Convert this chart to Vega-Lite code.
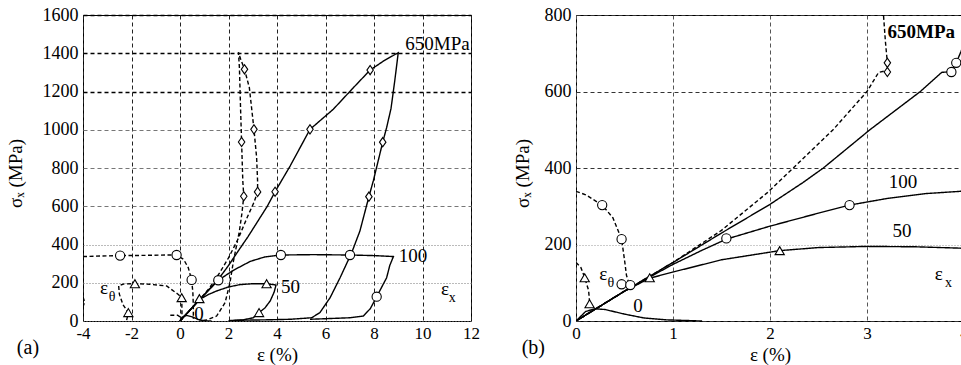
{
  "$schema": "https://vega.github.io/schema/vega-lite/v6.json",
  "background": "white",
  "padding": {"left": 5, "top": 5, "right": 0, "bottom": 0},
  "spacing": 32,
  "config": {
    "font": "Liberation Serif",
    "view": {"stroke": "black", "strokeWidth": 1},
    "axis": {"labelFont": "Liberation Serif", "labelFontSize": 18, "labelColor": "black", "titleFont": "Liberation Serif", "titleFontSize": 19, "titleFontWeight": "normal", "titleColor": "black", "ticks": false, "domain": false, "labelPadding": 5, "labelFlush": false, "labelOverlap": false, "gridDash": [4, 3]},
    "text": {"font": "Liberation Serif", "fontSize": 19, "color": "black", "align": "center", "baseline": "middle"}
  },
  "datasets": {
    "a_lines": [
      {"curve": "650x", "strain": "x", "i": 0, "x": 0, "y": 0},
      {"curve": "650x", "strain": "x", "i": 1, "x": 0.4, "y": 55},
      {"curve": "650x", "strain": "x", "i": 2, "x": 0.82, "y": 113},
      {"curve": "650x", "strain": "x", "i": 3, "x": 1.2, "y": 165},
      {"curve": "650x", "strain": "x", "i": 4, "x": 1.58, "y": 218},
      {"curve": "650x", "strain": "x", "i": 5, "x": 2.0, "y": 290},
      {"curve": "650x", "strain": "x", "i": 6, "x": 2.4, "y": 366},
      {"curve": "650x", "strain": "x", "i": 7, "x": 2.8, "y": 440},
      {"curve": "650x", "strain": "x", "i": 8, "x": 3.2, "y": 520},
      {"curve": "650x", "strain": "x", "i": 9, "x": 3.6, "y": 600},
      {"curve": "650x", "strain": "x", "i": 10, "x": 3.92, "y": 676},
      {"curve": "650x", "strain": "x", "i": 11, "x": 4.54, "y": 810},
      {"curve": "650x", "strain": "x", "i": 12, "x": 5.36, "y": 1002},
      {"curve": "650x", "strain": "x", "i": 13, "x": 6.32, "y": 1107},
      {"curve": "650x", "strain": "x", "i": 14, "x": 7.15, "y": 1220},
      {"curve": "650x", "strain": "x", "i": 15, "x": 7.84, "y": 1312},
      {"curve": "650x", "strain": "x", "i": 16, "x": 8.4, "y": 1360},
      {"curve": "650x", "strain": "x", "i": 17, "x": 9.0, "y": 1403},
      {"curve": "650x", "strain": "x", "i": 18, "x": 8.85, "y": 1250},
      {"curve": "650x", "strain": "x", "i": 19, "x": 8.7, "y": 1110},
      {"curve": "650x", "strain": "x", "i": 20, "x": 8.52, "y": 1011},
      {"curve": "650x", "strain": "x", "i": 21, "x": 8.36, "y": 935},
      {"curve": "650x", "strain": "x", "i": 22, "x": 7.97, "y": 732},
      {"curve": "650x", "strain": "x", "i": 23, "x": 7.79, "y": 650},
      {"curve": "650x", "strain": "x", "i": 24, "x": 7.42, "y": 471},
      {"curve": "650x", "strain": "x", "i": 25, "x": 7.08, "y": 357},
      {"curve": "650x", "strain": "x", "i": 26, "x": 6.6, "y": 226},
      {"curve": "650x", "strain": "x", "i": 27, "x": 6.19, "y": 122},
      {"curve": "650x", "strain": "x", "i": 28, "x": 5.77, "y": 44},
      {"curve": "650x", "strain": "x", "i": 29, "x": 5.43, "y": 17},
      {"curve": "650x", "strain": "x", "i": 30, "x": 4.54, "y": 9},
      {"curve": "650x", "strain": "x", "i": 31, "x": 3.5, "y": 6},
      {"curve": "650x", "strain": "x", "i": 32, "x": 2.47, "y": 4},
      {"curve": "650x", "strain": "x", "i": 33, "x": 2.0, "y": 2},

      {"curve": "650t", "strain": "theta", "i": 0, "x": 0, "y": 0},
      {"curve": "650t", "strain": "theta", "i": 1, "x": 0.4, "y": 55},
      {"curve": "650t", "strain": "theta", "i": 2, "x": 0.82, "y": 113},
      {"curve": "650t", "strain": "theta", "i": 3, "x": 1.2, "y": 170},
      {"curve": "650t", "strain": "theta", "i": 4, "x": 1.65, "y": 255},
      {"curve": "650t", "strain": "theta", "i": 5, "x": 2.0, "y": 330},
      {"curve": "650t", "strain": "theta", "i": 6, "x": 2.4, "y": 430},
      {"curve": "650t", "strain": "theta", "i": 7, "x": 2.8, "y": 550},
      {"curve": "650t", "strain": "theta", "i": 8, "x": 3.05, "y": 620},
      {"curve": "650t", "strain": "theta", "i": 9, "x": 3.2, "y": 675},
      {"curve": "650t", "strain": "theta", "i": 10, "x": 3.2, "y": 730},
      {"curve": "650t", "strain": "theta", "i": 11, "x": 3.16, "y": 854},
      {"curve": "650t", "strain": "theta", "i": 12, "x": 3.05, "y": 1002},
      {"curve": "650t", "strain": "theta", "i": 13, "x": 2.86, "y": 1220},
      {"curve": "650t", "strain": "theta", "i": 14, "x": 2.66, "y": 1316},
      {"curve": "650t", "strain": "theta", "i": 15, "x": 2.5, "y": 1370},
      {"curve": "650t", "strain": "theta", "i": 16, "x": 2.41, "y": 1405},
      {"curve": "650t", "strain": "theta", "i": 17, "x": 2.45, "y": 1325},
      {"curve": "650t", "strain": "theta", "i": 18, "x": 2.5, "y": 1100},
      {"curve": "650t", "strain": "theta", "i": 19, "x": 2.54, "y": 936},
      {"curve": "650t", "strain": "theta", "i": 20, "x": 2.59, "y": 732},
      {"curve": "650t", "strain": "theta", "i": 21, "x": 2.63, "y": 652},
      {"curve": "650t", "strain": "theta", "i": 22, "x": 2.55, "y": 560},
      {"curve": "650t", "strain": "theta", "i": 23, "x": 2.45, "y": 470},
      {"curve": "650t", "strain": "theta", "i": 24, "x": 2.34, "y": 400},
      {"curve": "650t", "strain": "theta", "i": 25, "x": 2.2, "y": 310},
      {"curve": "650t", "strain": "theta", "i": 26, "x": 2.06, "y": 200},
      {"curve": "650t", "strain": "theta", "i": 27, "x": 1.86, "y": 96},
      {"curve": "650t", "strain": "theta", "i": 28, "x": 1.51, "y": 26},
      {"curve": "650t", "strain": "theta", "i": 29, "x": 1.1, "y": 5},
      {"curve": "650t", "strain": "theta", "i": 30, "x": 0.8, "y": 0},

      {"curve": "100x", "strain": "x", "i": 0, "x": 0, "y": 0},
      {"curve": "100x", "strain": "x", "i": 1, "x": 0.82, "y": 113},
      {"curve": "100x", "strain": "x", "i": 2, "x": 1.58, "y": 213},
      {"curve": "100x", "strain": "x", "i": 3, "x": 2.2, "y": 265},
      {"curve": "100x", "strain": "x", "i": 4, "x": 2.9, "y": 312},
      {"curve": "100x", "strain": "x", "i": 5, "x": 3.5, "y": 335},
      {"curve": "100x", "strain": "x", "i": 6, "x": 4.16, "y": 345},
      {"curve": "100x", "strain": "x", "i": 7, "x": 5.5, "y": 347},
      {"curve": "100x", "strain": "x", "i": 8, "x": 7.01, "y": 345},
      {"curve": "100x", "strain": "x", "i": 9, "x": 8.0, "y": 342},
      {"curve": "100x", "strain": "x", "i": 10, "x": 8.8, "y": 337},
      {"curve": "100x", "strain": "x", "i": 11, "x": 8.65, "y": 290},
      {"curve": "100x", "strain": "x", "i": 12, "x": 8.52, "y": 226},
      {"curve": "100x", "strain": "x", "i": 13, "x": 8.11, "y": 127},
      {"curve": "100x", "strain": "x", "i": 14, "x": 7.85, "y": 65},
      {"curve": "100x", "strain": "x", "i": 15, "x": 7.56, "y": 26},
      {"curve": "100x", "strain": "x", "i": 16, "x": 7.01, "y": 17},
      {"curve": "100x", "strain": "x", "i": 17, "x": 6.0, "y": 12},
      {"curve": "100x", "strain": "x", "i": 18, "x": 5.36, "y": 9},

      {"curve": "50x", "strain": "x", "i": 0, "x": 0, "y": 0},
      {"curve": "50x", "strain": "x", "i": 1, "x": 0.8, "y": 113},
      {"curve": "50x", "strain": "x", "i": 2, "x": 1.2, "y": 140},
      {"curve": "50x", "strain": "x", "i": 3, "x": 1.51, "y": 157},
      {"curve": "50x", "strain": "x", "i": 4, "x": 2.0, "y": 178},
      {"curve": "50x", "strain": "x", "i": 5, "x": 2.47, "y": 190},
      {"curve": "50x", "strain": "x", "i": 6, "x": 3.0, "y": 195},
      {"curve": "50x", "strain": "x", "i": 7, "x": 3.57, "y": 195},
      {"curve": "50x", "strain": "x", "i": 8, "x": 3.96, "y": 188},
      {"curve": "50x", "strain": "x", "i": 9, "x": 3.88, "y": 150},
      {"curve": "50x", "strain": "x", "i": 10, "x": 3.72, "y": 105},
      {"curve": "50x", "strain": "x", "i": 11, "x": 3.5, "y": 68},
      {"curve": "50x", "strain": "x", "i": 12, "x": 3.26, "y": 44},
      {"curve": "50x", "strain": "x", "i": 13, "x": 3.02, "y": 17},
      {"curve": "50x", "strain": "x", "i": 14, "x": 2.6, "y": 6},
      {"curve": "50x", "strain": "x", "i": 15, "x": 2.2, "y": 3},

      {"curve": "100t", "strain": "theta", "i": 0, "x": -4, "y": 337},
      {"curve": "100t", "strain": "theta", "i": 1, "x": -3.2, "y": 340},
      {"curve": "100t", "strain": "theta", "i": 2, "x": -2.47, "y": 342},
      {"curve": "100t", "strain": "theta", "i": 3, "x": -1.5, "y": 343},
      {"curve": "100t", "strain": "theta", "i": 4, "x": -0.6, "y": 345},
      {"curve": "100t", "strain": "theta", "i": 5, "x": -0.14, "y": 345},
      {"curve": "100t", "strain": "theta", "i": 6, "x": 0.15, "y": 322},
      {"curve": "100t", "strain": "theta", "i": 7, "x": 0.34, "y": 279},
      {"curve": "100t", "strain": "theta", "i": 8, "x": 0.48, "y": 215},
      {"curve": "100t", "strain": "theta", "i": 9, "x": 0.53, "y": 150},
      {"curve": "100t", "strain": "theta", "i": 10, "x": 0.55, "y": 80},
      {"curve": "100t", "strain": "theta", "i": 11, "x": 0.55, "y": 10},

      {"curve": "50t", "strain": "theta", "i": 0, "x": -2.2, "y": 5},
      {"curve": "50t", "strain": "theta", "i": 1, "x": -2.13, "y": 44},
      {"curve": "50t", "strain": "theta", "i": 2, "x": -2.35, "y": 85},
      {"curve": "50t", "strain": "theta", "i": 3, "x": -2.5, "y": 140},
      {"curve": "50t", "strain": "theta", "i": 4, "x": -2.53, "y": 185},
      {"curve": "50t", "strain": "theta", "i": 5, "x": -2.3, "y": 194},
      {"curve": "50t", "strain": "theta", "i": 6, "x": -1.86, "y": 195},
      {"curve": "50t", "strain": "theta", "i": 7, "x": -1.24, "y": 192},
      {"curve": "50t", "strain": "theta", "i": 8, "x": -0.55, "y": 183},
      {"curve": "50t", "strain": "theta", "i": 9, "x": -0.07, "y": 139},
      {"curve": "50t", "strain": "theta", "i": 10, "x": 0.07, "y": 122},
      {"curve": "50t", "strain": "theta", "i": 11, "x": 0.08, "y": 60},
      {"curve": "50t", "strain": "theta", "i": 12, "x": 0.08, "y": 5},

      {"curve": "0x", "strain": "x", "i": 0, "x": 0, "y": 0},
      {"curve": "0x", "strain": "x", "i": 1, "x": 0.1, "y": 20},
      {"curve": "0x", "strain": "x", "i": 2, "x": 0.25, "y": 30},
      {"curve": "0x", "strain": "x", "i": 3, "x": 0.5, "y": 22},
      {"curve": "0x", "strain": "x", "i": 4, "x": 0.75, "y": 8},
      {"curve": "0x", "strain": "x", "i": 5, "x": 1.0, "y": 1},
      {"curve": "0x", "strain": "x", "i": 6, "x": 1.3, "y": 0},

      {"curve": "0t", "strain": "theta", "i": 0, "x": -0.4, "y": 30},
      {"curve": "0t", "strain": "theta", "i": 1, "x": -0.1, "y": 30},
      {"curve": "0t", "strain": "theta", "i": 2, "x": 0, "y": 22},
      {"curve": "0t", "strain": "theta", "i": 3, "x": 0.02, "y": 0},

      {"curve": "edge", "strain": "theta", "i": 0, "x": -4.0, "y": 125},
      {"curve": "edge", "strain": "theta", "i": 1, "x": -3.93, "y": 100},
      {"curve": "edge", "strain": "theta", "i": 2, "x": -4.0, "y": 75}
    ],
    "a_marks": [
      {"marker": "diamond", "x": 3.92, "y": 676},
      {"marker": "diamond", "x": 5.36, "y": 1002},
      {"marker": "diamond", "x": 7.84, "y": 1312},
      {"marker": "diamond", "x": 8.36, "y": 935},
      {"marker": "diamond", "x": 7.79, "y": 650},
      {"marker": "diamond", "x": 2.63, "y": 652},
      {"marker": "diamond", "x": 2.54, "y": 936},
      {"marker": "diamond", "x": 3.2, "y": 675},
      {"marker": "diamond", "x": 3.05, "y": 1002},
      {"marker": "diamond", "x": 2.66, "y": 1316},
      {"marker": "circle", "x": -2.47, "y": 342},
      {"marker": "circle", "x": -0.14, "y": 345},
      {"marker": "circle", "x": 0.48, "y": 215},
      {"marker": "circle", "x": 1.58, "y": 213},
      {"marker": "circle", "x": 4.16, "y": 345},
      {"marker": "circle", "x": 7.01, "y": 345},
      {"marker": "circle", "x": 8.11, "y": 127},
      {"marker": "triangle", "x": -1.86, "y": 195},
      {"marker": "triangle", "x": -2.13, "y": 44},
      {"marker": "triangle", "x": 0.07, "y": 122},
      {"marker": "triangle", "x": 0.8, "y": 117},
      {"marker": "triangle", "x": 3.57, "y": 195},
      {"marker": "triangle", "x": 3.26, "y": 44}
    ],
    "a_text": [
      {"label": "650MPa", "x": 10.62, "y": 1448},
      {"label": "100", "x": 9.61, "y": 340},
      {"label": "50", "x": 4.56, "y": 178},
      {"label": "0", "x": 0.78, "y": 35},
      {"label": "ε", "x": -3.13, "y": 173},
      {"label": "ε", "x": 10.93, "y": 166}
    ],
    "a_sub": [
      {"label": "θ", "x": -2.8, "y": 126},
      {"label": "x", "x": 11.23, "y": 122}
    ],
    "a_tag": [{"label": "(a)", "x": -6.27, "y": -141}],
    "b_lines": [
      {"curve": "650x", "strain": "x", "i": 0, "x": 0, "y": 0},
      {"curve": "650x", "strain": "x", "i": 1, "x": 0.5, "y": 78},
      {"curve": "650x", "strain": "x", "i": 2, "x": 1, "y": 153},
      {"curve": "650x", "strain": "x", "i": 3, "x": 1.5, "y": 230},
      {"curve": "650x", "strain": "x", "i": 4, "x": 2, "y": 305},
      {"curve": "650x", "strain": "x", "i": 5, "x": 2.34, "y": 362},
      {"curve": "650x", "strain": "x", "i": 6, "x": 2.55, "y": 400},
      {"curve": "650x", "strain": "x", "i": 7, "x": 3.03, "y": 500},
      {"curve": "650x", "strain": "x", "i": 8, "x": 3.55, "y": 600},
      {"curve": "650x", "strain": "x", "i": 9, "x": 3.77, "y": 650},
      {"curve": "650x", "strain": "x", "i": 10, "x": 3.87, "y": 652},
      {"curve": "650x", "strain": "x", "i": 11, "x": 3.92, "y": 675},
      {"curve": "650x", "strain": "x", "i": 12, "x": 3.97, "y": 705},
      {"curve": "650x", "strain": "x", "i": 13, "x": 4.03, "y": 745},

      {"curve": "650t", "strain": "theta", "i": 0, "x": 0, "y": 0},
      {"curve": "650t", "strain": "theta", "i": 1, "x": 0.5, "y": 78},
      {"curve": "650t", "strain": "theta", "i": 2, "x": 1, "y": 153},
      {"curve": "650t", "strain": "theta", "i": 3, "x": 1.5, "y": 237},
      {"curve": "650t", "strain": "theta", "i": 4, "x": 1.97, "y": 335},
      {"curve": "650t", "strain": "theta", "i": 5, "x": 2.24, "y": 400},
      {"curve": "650t", "strain": "theta", "i": 6, "x": 2.65, "y": 500},
      {"curve": "650t", "strain": "theta", "i": 7, "x": 3.0, "y": 600},
      {"curve": "650t", "strain": "theta", "i": 8, "x": 3.12, "y": 650},
      {"curve": "650t", "strain": "theta", "i": 9, "x": 3.21, "y": 655},
      {"curve": "650t", "strain": "theta", "i": 10, "x": 3.21, "y": 675},
      {"curve": "650t", "strain": "theta", "i": 11, "x": 3.19, "y": 730},
      {"curve": "650t", "strain": "theta", "i": 12, "x": 3.17, "y": 800},
      {"curve": "650t", "strain": "theta", "i": 13, "x": 3.16, "y": 830},

      {"curve": "100x", "strain": "x", "i": 0, "x": 0, "y": 0},
      {"curve": "100x", "strain": "x", "i": 1, "x": 0.5, "y": 78},
      {"curve": "100x", "strain": "x", "i": 2, "x": 0.76, "y": 115},
      {"curve": "100x", "strain": "x", "i": 3, "x": 1, "y": 148},
      {"curve": "100x", "strain": "x", "i": 4, "x": 1.3, "y": 185},
      {"curve": "100x", "strain": "x", "i": 5, "x": 1.55, "y": 214},
      {"curve": "100x", "strain": "x", "i": 6, "x": 2, "y": 248},
      {"curve": "100x", "strain": "x", "i": 7, "x": 2.5, "y": 282},
      {"curve": "100x", "strain": "x", "i": 8, "x": 2.82, "y": 303},
      {"curve": "100x", "strain": "x", "i": 9, "x": 3.2, "y": 320},
      {"curve": "100x", "strain": "x", "i": 10, "x": 3.6, "y": 333},
      {"curve": "100x", "strain": "x", "i": 11, "x": 4.02, "y": 340},

      {"curve": "50x", "strain": "x", "i": 0, "x": 0, "y": 0},
      {"curve": "50x", "strain": "x", "i": 1, "x": 0.5, "y": 78},
      {"curve": "50x", "strain": "x", "i": 2, "x": 0.76, "y": 112},
      {"curve": "50x", "strain": "x", "i": 3, "x": 1.0, "y": 128},
      {"curve": "50x", "strain": "x", "i": 4, "x": 1.5, "y": 160},
      {"curve": "50x", "strain": "x", "i": 5, "x": 2.1, "y": 184},
      {"curve": "50x", "strain": "x", "i": 6, "x": 2.5, "y": 192},
      {"curve": "50x", "strain": "x", "i": 7, "x": 3, "y": 195},
      {"curve": "50x", "strain": "x", "i": 8, "x": 3.5, "y": 194},
      {"curve": "50x", "strain": "x", "i": 9, "x": 4.02, "y": 190},

      {"curve": "0x", "strain": "x", "i": 0, "x": 0, "y": 0},
      {"curve": "0x", "strain": "x", "i": 1, "x": 0.1, "y": 25},
      {"curve": "0x", "strain": "x", "i": 2, "x": 0.2, "y": 32},
      {"curve": "0x", "strain": "x", "i": 3, "x": 0.3, "y": 30},
      {"curve": "0x", "strain": "x", "i": 4, "x": 0.5, "y": 18},
      {"curve": "0x", "strain": "x", "i": 5, "x": 0.7, "y": 8},
      {"curve": "0x", "strain": "x", "i": 6, "x": 0.93, "y": 3},
      {"curve": "0x", "strain": "x", "i": 7, "x": 1.3, "y": 0},

      {"curve": "100t", "strain": "theta", "i": 0, "x": 0, "y": 339},
      {"curve": "100t", "strain": "theta", "i": 1, "x": 0.1, "y": 330},
      {"curve": "100t", "strain": "theta", "i": 2, "x": 0.27, "y": 303},
      {"curve": "100t", "strain": "theta", "i": 3, "x": 0.38, "y": 270},
      {"curve": "100t", "strain": "theta", "i": 4, "x": 0.47, "y": 214},
      {"curve": "100t", "strain": "theta", "i": 5, "x": 0.5, "y": 160},
      {"curve": "100t", "strain": "theta", "i": 6, "x": 0.52, "y": 120},
      {"curve": "100t", "strain": "theta", "i": 7, "x": 0.55, "y": 94},

      {"curve": "50t", "strain": "theta", "i": 0, "x": 0, "y": 153},
      {"curve": "50t", "strain": "theta", "i": 1, "x": 0.05, "y": 140},
      {"curve": "50t", "strain": "theta", "i": 2, "x": 0.09, "y": 113},
      {"curve": "50t", "strain": "theta", "i": 3, "x": 0.13, "y": 80},
      {"curve": "50t", "strain": "theta", "i": 4, "x": 0.14, "y": 50}
    ],
    "b_marks": [
      {"marker": "diamond", "x": 3.21, "y": 651},
      {"marker": "diamond", "x": 3.21, "y": 675},
      {"marker": "circle", "x": 3.87, "y": 651},
      {"marker": "circle", "x": 3.92, "y": 675},
      {"marker": "circle", "x": 0.27, "y": 303},
      {"marker": "circle", "x": 0.47, "y": 214},
      {"marker": "circle", "x": 0.47, "y": 96},
      {"marker": "circle", "x": 0.56, "y": 94},
      {"marker": "circle", "x": 1.55, "y": 216},
      {"marker": "circle", "x": 2.82, "y": 303},
      {"marker": "triangle", "x": 0.09, "y": 113},
      {"marker": "triangle", "x": 0.14, "y": 45},
      {"marker": "triangle", "x": 0.76, "y": 113},
      {"marker": "triangle", "x": 2.1, "y": 184}
    ],
    "b_title": [
      {"label": "650MPa", "x": 3.56, "y": 756}
    ],
    "b_text": [
      {"label": "100", "x": 3.37, "y": 363},
      {"label": "50", "x": 3.36, "y": 236},
      {"label": "0", "x": 0.64, "y": 39},
      {"label": "ε", "x": 0.28, "y": 124},
      {"label": "ε", "x": 3.74, "y": 124}
    ],
    "b_sub": [
      {"label": "θ", "x": 0.36, "y": 100},
      {"label": "x", "x": 3.84, "y": 100}
    ],
    "b_tag": [{"label": "(b)", "x": -0.44, "y": -70}]
  },
  "hconcat": [
    {
      "width": 388,
      "height": 306,
      "encoding": {
        "x": {"field": "x", "type": "quantitative",
          "scale": {"domain": [-4, 12], "nice": false, "zero": false},
          "axis": {"title": "ε (%)", "values": [-4, -2, 0, 2, 4, 6, 8, 10, 12], "labelExpr": "'' + datum.value", "gridColor": "#222", "gridDash": [4, 3], "titleY": 33, "titleBaseline": "middle", "labelPadding": 4, "labelFontSize": 17, "labelFont": "Liberation Serif", "titleFont": "Liberation Serif"}},
        "y": {"field": "y", "type": "quantitative",
          "scale": {"domain": [0, 1600], "nice": false, "zero": false},
          "axis": {"title": "σₓ (MPa)", "values": [0, 200, 400, 600, 800, 1000, 1200, 1400, 1600], "labelExpr": "'' + datum.value", "labelFont": "Liberation Serif", "titleFont": "Liberation Serif",
            "gridColor": {"condition": {"test": "datum.value >= 1200", "value": "#000"}, "value": "#777"},
            "gridWidth": {"condition": {"test": "datum.value >= 1200", "value": 1.3}, "value": 1},
            "gridDash": {"condition": {"test": "datum.value <= 400", "value": [1, 2]}, "value": [4, 3]},
            "titleX": -68, "titleY": 158, "titleBaseline": "middle", "titleAlign": "center"}}
      },
      "layer": [
        {"data": {"name": "a_lines"},
          "mark": {"type": "line", "clip": true, "color": "black", "strokeWidth": 1.4},
          "encoding": {
            "detail": {"field": "curve"},
            "order": {"field": "i", "type": "quantitative"},
            "strokeDash": {"field": "strain", "type": "nominal", "scale": {"domain": ["x", "theta"], "range": [[1, 0], [4, 2.5]]}, "legend": null}
          }},
        {"data": {"name": "a_marks"},
          "mark": {"type": "point", "filled": true, "fill": "white", "stroke": "black", "strokeWidth": 1.1, "size": 85, "opacity": 1, "clip": true},
          "encoding": {"shape": {"field": "marker", "type": "nominal", "scale": {"domain": ["circle", "diamond", "triangle"], "range": ["circle", "M-0.7,0L0,-1L0.7,0L0,1Z", "triangle-up"]}, "legend": null}}},
        {"data": {"name": "a_text"}, "mark": {"type": "text", "font": "Liberation Serif", "fontSize": 19}, "encoding": {"text": {"field": "label"}}},
        {"data": {"name": "a_sub"}, "mark": {"type": "text", "font": "Liberation Serif", "fontSize": 14}, "encoding": {"text": {"field": "label"}}},
        {"data": {"name": "a_tag"}, "mark": {"type": "text", "font": "Liberation Serif", "fontSize": 20}, "encoding": {"text": {"field": "label"}}}
      ]
    },
    {
      "width": 388,
      "height": 306,
      "encoding": {
        "x": {"field": "x", "type": "quantitative",
          "scale": {"domain": [0, 4], "nice": false, "zero": false},
          "axis": {"title": "ε (%)", "values": [0, 1, 2, 3, 4], "labelExpr": "'' + datum.value", "gridColor": "#555", "gridDash": [4, 3], "titleY": 33, "titleBaseline": "middle", "labelPadding": 4, "labelFontSize": 17, "labelFont": "Liberation Serif", "titleFont": "Liberation Serif"}},
        "y": {"field": "y", "type": "quantitative",
          "scale": {"domain": [0, 800], "nice": false, "zero": false},
          "axis": {"title": "σₓ (MPa)", "values": [0, 200, 400, 600, 800], "labelExpr": "'' + datum.value", "labelFont": "Liberation Serif", "titleFont": "Liberation Serif",
            "gridColor": {"condition": {"test": "datum.value == 200", "value": "#999"}, "value": "#333"},
            "gridDash": {"condition": {"test": "datum.value == 200", "value": [1, 2]}, "value": [4, 3]},
            "titleX": -54, "titleY": 158, "titleBaseline": "middle", "titleAlign": "center"}}
      },
      "layer": [
        {"data": {"name": "b_lines"},
          "mark": {"type": "line", "clip": true, "color": "black", "strokeWidth": 1.4},
          "encoding": {
            "detail": {"field": "curve"},
            "order": {"field": "i", "type": "quantitative"},
            "strokeDash": {"field": "strain", "type": "nominal", "scale": {"domain": ["x", "theta"], "range": [[1, 0], [4, 2.5]]}, "legend": null}
          }},
        {"data": {"name": "b_marks"},
          "mark": {"type": "point", "filled": true, "fill": "white", "stroke": "black", "strokeWidth": 1.1, "size": 85, "opacity": 1, "clip": true},
          "encoding": {"shape": {"field": "marker", "type": "nominal", "scale": {"domain": ["circle", "diamond", "triangle"], "range": ["circle", "M-0.7,0L0,-1L0.7,0L0,1Z", "triangle-up"]}, "legend": null}}},
        {"data": {"name": "b_title"}, "mark": {"type": "text", "font": "Liberation Serif", "fontSize": 19, "fontWeight": "bold"}, "encoding": {"text": {"field": "label"}}},
        {"data": {"name": "b_text"}, "mark": {"type": "text", "font": "Liberation Serif", "fontSize": 19}, "encoding": {"text": {"field": "label"}}},
        {"data": {"name": "b_sub"}, "mark": {"type": "text", "font": "Liberation Serif", "fontSize": 14}, "encoding": {"text": {"field": "label"}}},
        {"data": {"name": "b_tag"}, "mark": {"type": "text", "font": "Liberation Serif", "fontSize": 20}, "encoding": {"text": {"field": "label"}}}
      ]
    }
  ]
}
